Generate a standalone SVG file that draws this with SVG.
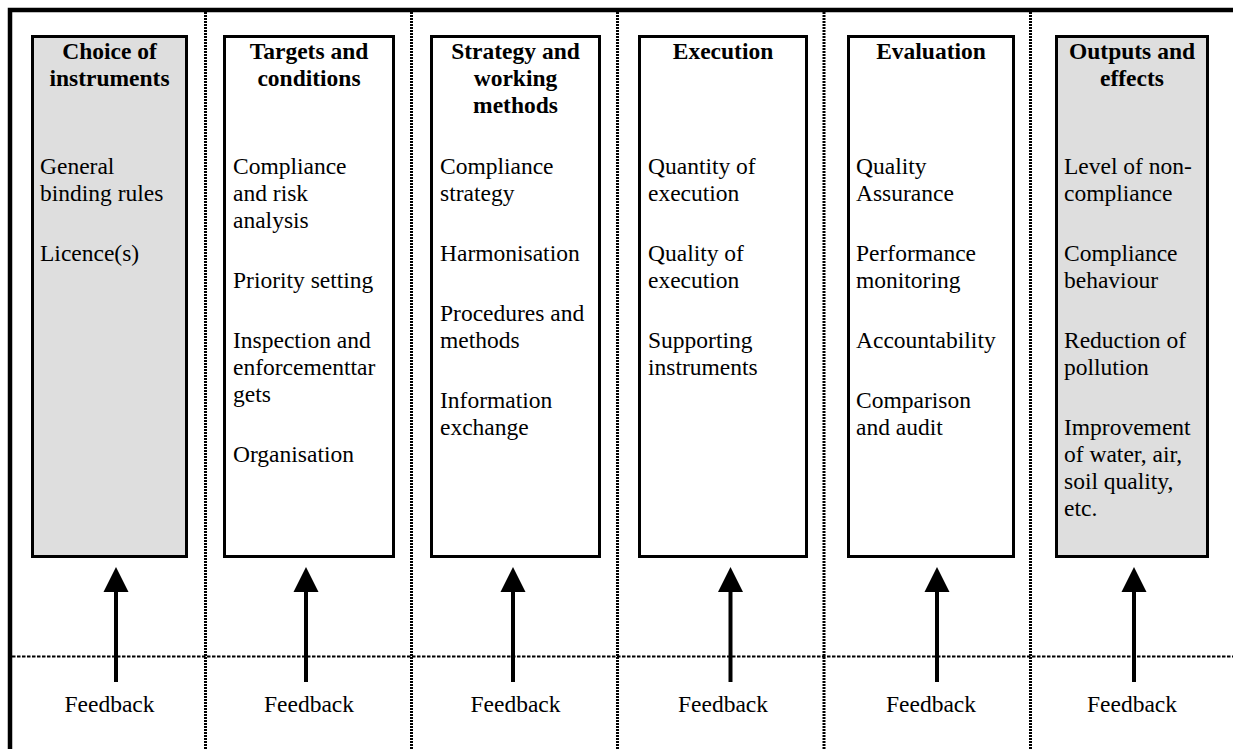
<svg xmlns="http://www.w3.org/2000/svg" width="1233" height="749" viewBox="0 0 1233 749">
  <style>
    .frame { stroke: #000; stroke-width: 4.5; fill: none; }
    .vsep { stroke: #000; stroke-width: 3; stroke-dasharray: 2 1; fill: none; }
    .hsep { stroke: #000; stroke-width: 2; stroke-dasharray: 3.5 1.5; fill: none; }
    .box { stroke: #000; stroke-width: 3; fill: #fff; }
    .box.shaded { fill: #dedede; }
    .title { font-family: "Liberation Serif", "Times New Roman", serif; font-size: 23.5px; font-weight: bold; text-anchor: middle; fill: #000; }
    .body { font-family: "Liberation Serif", "Times New Roman", serif; font-size: 23.5px; fill: #000; }
    .fb { font-family: "Liberation Serif", "Times New Roman", serif; font-size: 23.5px; text-anchor: middle; fill: #000; }
    .shaft { stroke: #000; stroke-width: 4; fill: none; }
  </style>
  <defs>
    <path id="head" d="M0,0 L12.5,25 L-12.5,25 Z" fill="#000"/>
  </defs>

  <rect width="1233" height="749" fill="#fff"/>

  <!-- table frame and column separators -->
  <g id="grid">
    <path class="frame" d="M10,749 V10 H1233"/>
    <line class="vsep" x1="205.5" y1="12" x2="205.5" y2="749"/>
    <line class="vsep" x1="411.5" y1="12" x2="411.5" y2="749"/>
    <line class="vsep" x1="617.5" y1="12" x2="617.5" y2="749"/>
    <line class="vsep" x1="824" y1="12" x2="824" y2="749"/>
    <line class="vsep" x1="1030.5" y1="12" x2="1030.5" y2="749"/>
    <line class="hsep" x1="12" y1="656.5" x2="1233" y2="656.5"/>
  </g>

  <g id="choice-of-instruments">
    <rect class="box shaded" x="32.5" y="36.5" width="154" height="520"/>
    <text class="title" x="109.5"><tspan x="109.5" y="59">Choice of</tspan><tspan x="109.5" y="86">instruments</tspan></text>
    <text class="body"><tspan x="40" y="174">General</tspan><tspan x="40" y="201">binding rules</tspan><tspan x="40" y="261">Licence(s)</tspan></text>
  </g>

  <g id="targets-and-conditions">
    <rect class="box" x="224.5" y="36.5" width="169" height="520"/>
    <text class="title"><tspan x="309" y="59">Targets and</tspan><tspan x="309" y="86">conditions</tspan></text>
    <text class="body"><tspan x="233" y="174">Compliance</tspan><tspan x="233" y="201">and risk</tspan><tspan x="233" y="228">analysis</tspan><tspan x="233" y="288">Priority setting</tspan><tspan x="233" y="348">Inspection and</tspan><tspan x="233" y="375">enforcementtar</tspan><tspan x="233" y="402">gets</tspan><tspan x="233" y="462">Organisation</tspan></text>
  </g>

  <g id="strategy-and-working-methods">
    <rect class="box" x="431.5" y="36.5" width="168" height="520"/>
    <text class="title"><tspan x="515.5" y="59">Strategy and</tspan><tspan x="515.5" y="86">working</tspan><tspan x="515.5" y="113">methods</tspan></text>
    <text class="body"><tspan x="440" y="174">Compliance</tspan><tspan x="440" y="201">strategy</tspan><tspan x="440" y="261">Harmonisation</tspan><tspan x="440" y="321">Procedures and</tspan><tspan x="440" y="348">methods</tspan><tspan x="440" y="408">Information</tspan><tspan x="440" y="435">exchange</tspan></text>
  </g>

  <g id="execution">
    <rect class="box" x="639.5" y="36.5" width="167" height="520"/>
    <text class="title"><tspan x="723" y="59">Execution</tspan></text>
    <text class="body"><tspan x="648" y="174">Quantity of</tspan><tspan x="648" y="201">execution</tspan><tspan x="648" y="261">Quality of</tspan><tspan x="648" y="288">execution</tspan><tspan x="648" y="348">Supporting</tspan><tspan x="648" y="375">instruments</tspan></text>
  </g>

  <g id="evaluation">
    <rect class="box" x="848.5" y="36.5" width="165" height="520"/>
    <text class="title"><tspan x="931" y="59">Evaluation</tspan></text>
    <text class="body"><tspan x="856" y="174">Quality</tspan><tspan x="856" y="201">Assurance</tspan><tspan x="856" y="261">Performance</tspan><tspan x="856" y="288">monitoring</tspan><tspan x="856" y="348">Accountability</tspan><tspan x="856" y="408">Comparison</tspan><tspan x="856" y="435">and audit</tspan></text>
  </g>

  <g id="outputs-and-effects">
    <rect class="box shaded" x="1056.5" y="36.5" width="151" height="520"/>
    <text class="title"><tspan x="1132" y="59">Outputs and</tspan><tspan x="1132" y="86">effects</tspan></text>
    <text class="body"><tspan x="1064" y="174">Level of non-</tspan><tspan x="1064" y="201">compliance</tspan><tspan x="1064" y="261">Compliance</tspan><tspan x="1064" y="288">behaviour</tspan><tspan x="1064" y="348">Reduction of</tspan><tspan x="1064" y="375">pollution</tspan><tspan x="1064" y="435">Improvement</tspan><tspan x="1064" y="462">of water, air,</tspan><tspan x="1064" y="489">soil quality,</tspan><tspan x="1064" y="516">etc.</tspan></text>
  </g>

  <!-- feedback arrows -->
  <g id="connectors">
    <line class="shaft" x1="116" y1="590" x2="116" y2="682"/>
    <use href="#head" x="116" y="567"/>
    <line class="shaft" x1="306" y1="590" x2="306" y2="682"/>
    <use href="#head" x="306" y="567"/>
    <line class="shaft" x1="513" y1="590" x2="513" y2="682"/>
    <use href="#head" x="513" y="567"/>
    <line class="shaft" x1="730.5" y1="590" x2="730.5" y2="682"/>
    <use href="#head" x="730.5" y="567"/>
    <line class="shaft" x1="937" y1="590" x2="937" y2="682"/>
    <use href="#head" x="937" y="567"/>
    <line class="shaft" x1="1134" y1="590" x2="1134" y2="682"/>
    <use href="#head" x="1134" y="567"/>
  </g>

  <g id="feedback-labels">
    <text class="fb" x="109.5" y="712">Feedback</text>
    <text class="fb" x="309" y="712">Feedback</text>
    <text class="fb" x="515.5" y="712">Feedback</text>
    <text class="fb" x="723" y="712">Feedback</text>
    <text class="fb" x="931" y="712">Feedback</text>
    <text class="fb" x="1132" y="712">Feedback</text>
  </g>
</svg>
